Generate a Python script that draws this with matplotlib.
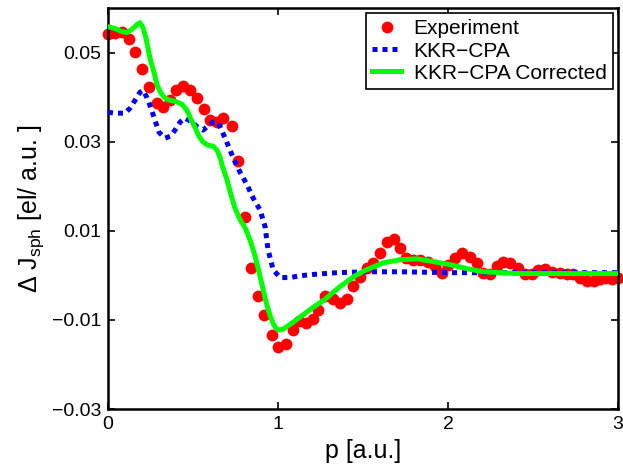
import matplotlib
matplotlib.use("Agg")
import matplotlib.pyplot as plt

plt.rcParams['font.family'] = ['Liberation Sans', 'DejaVu Sans']
plt.rcParams['mathtext.fontset'] = 'custom'
plt.rcParams['mathtext.rm'] = 'Liberation Sans'
plt.rcParams['mathtext.it'] = 'Liberation Sans'

# Experiment (red dots)
exp_p = [0.0, 0.041, 0.082, 0.124, 0.159, 0.2, 0.241, 0.288, 0.324, 0.365,
         0.4, 0.441, 0.482, 0.524, 0.565, 0.6, 0.641, 0.676, 0.729, 0.765,
         0.806, 0.841, 0.882, 0.918, 0.965, 1.0, 1.047, 1.088, 1.124, 1.165,
         1.206, 1.235, 1.276, 1.324, 1.365, 1.406, 1.441, 1.482, 1.524, 1.559,
         1.6, 1.641, 1.682, 1.718, 1.753, 1.794, 1.835, 1.882, 1.924, 1.965,
         2.0, 2.041, 2.082, 2.129, 2.171, 2.206, 2.247, 2.288, 2.324, 2.365,
         2.412, 2.453, 2.494, 2.529, 2.571, 2.612, 2.659, 2.7, 2.735, 2.776,
         2.818, 2.859, 2.894, 2.929, 2.965, 3.0]
exp_v = [0.0542, 0.0545, 0.0547, 0.0531, 0.0502, 0.0464, 0.0422, 0.0386, 0.0377, 0.0393,
         0.0415, 0.0426, 0.0417, 0.0399, 0.0373, 0.0348, 0.0344, 0.0353, 0.0335, 0.0256,
         0.0131, 0.0017, -0.0047, -0.0090, -0.0135, -0.0161, -0.0155, -0.0123, -0.0103, -0.0106,
         -0.0099, -0.0077, -0.0047, -0.0054, -0.0061, -0.0054, -0.0025, -0.0003, 0.0017, 0.0028,
         0.0051, 0.0075, 0.0082, 0.0062, 0.0040, 0.0035, 0.0035, 0.0031, 0.0020, 0.0006,
         0.0024, 0.0040, 0.0051, 0.0042, 0.0028, 0.0006, 0.0004, 0.0020, 0.0031, 0.0028,
         0.0017, 0.0004, 0.0002, 0.0013, 0.0015, 0.0008, 0.0006, 0.0004, 0.0002, -0.0005,
         -0.0012, -0.0012, -0.0009, -0.0007, -0.0008, -0.0007]

# KKR-CPA (blue dotted)
kkr_p = [0.0, 0.041, 0.1, 0.129, 0.159, 0.188, 0.206, 0.229, 0.253, 0.276,
         0.3, 0.335, 0.365, 0.394, 0.424, 0.453, 0.494, 0.529, 0.559, 0.588,
         0.618, 0.647, 0.676, 0.706, 0.735, 0.776, 0.818, 0.853, 0.894, 0.924,
         0.941, 0.971, 1.012, 1.071, 1.129, 1.206, 1.347, 1.524, 1.718, 2.012,
         2.306, 2.6, 3.0]
kkr_v = [0.0366, 0.0364, 0.0364, 0.0375, 0.0393, 0.0411, 0.0415, 0.0399, 0.0375, 0.0348,
         0.0321, 0.0308, 0.0312, 0.0326, 0.0344, 0.0353, 0.0344, 0.0332, 0.0326, 0.0335,
         0.0344, 0.0344, 0.0319, 0.0292, 0.0265, 0.0232, 0.0203, 0.0174, 0.0147, 0.0109,
         0.0058, 0.0013, -0.0005, -0.0005, -0.0001, 0.0002, 0.0006, 0.0008, 0.0008, 0.0006,
         0.0006, 0.0006, 0.0006]

# KKR-CPA Corrected (green)
cor_p = [0.0, 0.041, 0.082, 0.112, 0.147, 0.171, 0.188, 0.206, 0.224, 0.247,
         0.271, 0.288, 0.306, 0.324, 0.347, 0.365, 0.388, 0.412, 0.435, 0.465,
         0.488, 0.512, 0.535, 0.559, 0.588, 0.618, 0.641, 0.659, 0.676, 0.7,
         0.724, 0.747, 0.776, 0.806, 0.835, 0.859, 0.882, 0.906, 0.929, 0.953,
         0.976, 1.0, 1.029, 1.071, 1.129, 1.206, 1.276, 1.365, 1.453, 1.524,
         1.618, 1.718, 1.818, 1.912, 2.012, 2.112, 2.206, 2.306, 2.406, 2.6,
         2.776, 3.0]
cor_v = [0.0558, 0.0554, 0.0547, 0.0545, 0.0554, 0.0563, 0.0567, 0.0556, 0.0531, 0.0487,
         0.0455, 0.0428, 0.0413, 0.0402, 0.0395, 0.0393, 0.0391, 0.0388, 0.0384, 0.0370,
         0.0350, 0.0332, 0.0312, 0.0299, 0.0292, 0.0290, 0.0281, 0.0265, 0.0241, 0.0214,
         0.0180, 0.0151, 0.0125, 0.0107, 0.0080, 0.0051, 0.0017, -0.0021, -0.0059, -0.0090,
         -0.0112, -0.0123, -0.0121, -0.0110, -0.0094, -0.0072, -0.0054, -0.0025, -0.0001, 0.0013,
         0.0028, 0.0035, 0.0037, 0.0031, 0.0024, 0.0015, 0.0008, 0.0006, 0.0004, 0.0004,
         0.0004, 0.0004]

xticks = [0, 1, 2, 3]
yticks = [-0.03, -0.01, 0.01, 0.03, 0.05]
ytick_labels = ['\u22120.03', '\u22120.01', '0.01', '0.03', '0.05']

fig = plt.figure(figsize=(6.23, 4.66), dpi=100)
ax = fig.add_axes([0.1734, 0.1223, 0.8186, 0.8605])

ax.plot(exp_p, exp_v, 'o', color=(1, 0, 0), markersize=8.5, markeredgewidth=0,
        label='Experiment', zorder=2, clip_on=False)
ax.plot(kkr_p, kkr_v, color=(0, 0, 1), linewidth=3.6, dashes=(1, 1),
        label='KKR\u2212CPA', zorder=3)
ax.plot(cor_p, cor_v, color=(0, 1, 0), linewidth=3.6, label='KKR\u2212CPA Corrected',
        zorder=4)

ax.set_xlim(0, 3)
ax.set_ylim(-0.03, 0.06)
ax.set_xticks(xticks)
ax.set_yticks(yticks)
ax.set_yticklabels(ytick_labels)
ax.tick_params(direction='in', length=5, width=1.2, top=True, right=True,
               labelsize=14, pad=5)
for s in ax.spines.values():
    s.set_linewidth(1.8)

ax.set_xlabel('p [a.u.]', fontsize=18, labelpad=4)
ax.set_ylabel(r'$\Delta$ J$_{\rm sph}$ [el/ a.u. ]', fontsize=18, labelpad=4)

leg = ax.legend(loc='upper right', fontsize=15, numpoints=1, fancybox=False,
                framealpha=1, edgecolor='black', borderaxespad=0.25,
                labelspacing=0.15, handlelength=1.4, handletextpad=0.6,
                borderpad=0.3)
leg.get_frame().set_linewidth(1.2)

fig.savefig('out.png', dpi=100)
